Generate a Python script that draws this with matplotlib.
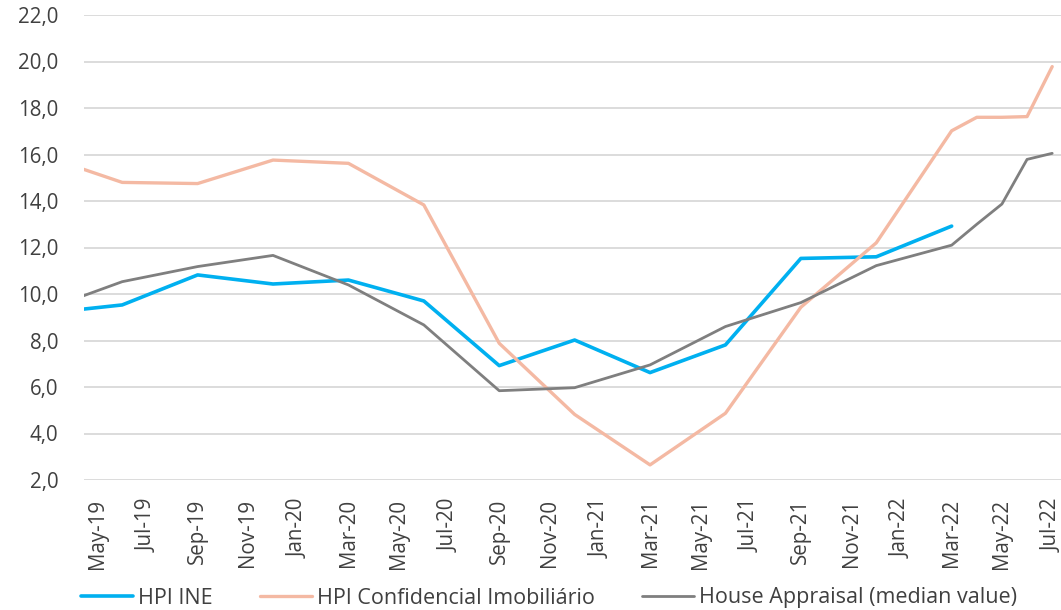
import numpy as np
import pandas as pd
import matplotlib
matplotlib.use("Agg")
import matplotlib.pyplot as plt
from matplotlib.ticker import FuncFormatter

plt.rcParams['font.family'] = ['Open Sans', 'DejaVu Sans']

# observation months (first point lies just left of the visible axis)
dates = ['2019-03', '2019-06', '2019-09', '2019-12', '2020-03', '2020-06',
         '2020-09', '2020-12', '2021-03', '2021-06', '2021-09', '2021-12',
         '2022-03', '2022-04', '2022-05', '2022-06', '2022-07']

hpi_ine = [9.18, 9.53, 10.82, 10.43, 10.6, 9.7, 6.92, 8.02, 6.62, 7.81,
           11.53, 11.6, 12.92, np.nan, np.nan, np.nan, np.nan]
hpi_ci = [15.9, 14.8, 14.75, 15.76, 15.62, 13.83, 7.88, 4.82, 2.65, 4.87,
          9.43, 12.2, 17.02, 17.6, 17.6, 17.63, 19.78]
appraisal = [9.35, 10.53, 11.18, 11.66, 10.39, 8.67, 5.84, 5.97, 6.95, 8.6,
             9.63, 11.22, 12.1, 13.0, 13.87, 15.79, 16.05]

labels = ['HPI INE', 'HPI Confidencial Imobiliário', 'House Appraisal (median value)']
colors = ['#00B0F0', '#F4B9A3', '#7F7F7F']
widths = [2.6, 2.4, 2.0]

start = pd.Period('2019-05', 'M')
x = np.array([(pd.Period(d, 'M') - start).n for d in dates])
tick_months = pd.period_range('2019-05', '2022-07', freq='M')[::2]
tick_x = [(p - start).n for p in tick_months]
tick_lbl = [p.strftime('%b-%y') for p in tick_months]

fig = plt.figure(figsize=(10.61, 6.10), dpi=100)
ax = fig.add_axes([84 / 1061, 130 / 610, 1 - 84 / 1061, 465 / 610])

for ys, lab, c, w in zip([hpi_ine, hpi_ci, appraisal], labels, colors, widths):
    ax.plot(x, ys, color=c, lw=w, label=lab, solid_capstyle='round')

ax.set_xlim(-0.52, 38.35)
ax.set_ylim(2, 22)
ax.set_yticks(np.arange(2, 23, 2))
ax.yaxis.set_major_formatter(FuncFormatter(lambda v, p: f'{v:.1f}'.replace('.', ',')))
ax.set_xticks(tick_x)
ax.set_xticklabels(tick_lbl, rotation=90)
ax.tick_params(axis='both', length=0, labelsize=14.8, labelcolor='#404040')
ax.tick_params(axis='y', pad=18.5)
ax.tick_params(axis='x', pad=13.5)
ax.grid(axis='y', color='#D9D9D9', lw=1.3)
ax.set_axisbelow(True)
for s in ax.spines.values():
    s.set_visible(False)

fig.legend(loc='center left', bbox_to_anchor=(81 / 1061, 12 / 610), ncol=3,
           frameon=False, fontsize=15.5, labelcolor='#404040', borderpad=0,
           borderaxespad=0, handlelength=2.4, handletextpad=0.25, columnspacing=2.2)

fig.savefig('out.png', dpi=100)
